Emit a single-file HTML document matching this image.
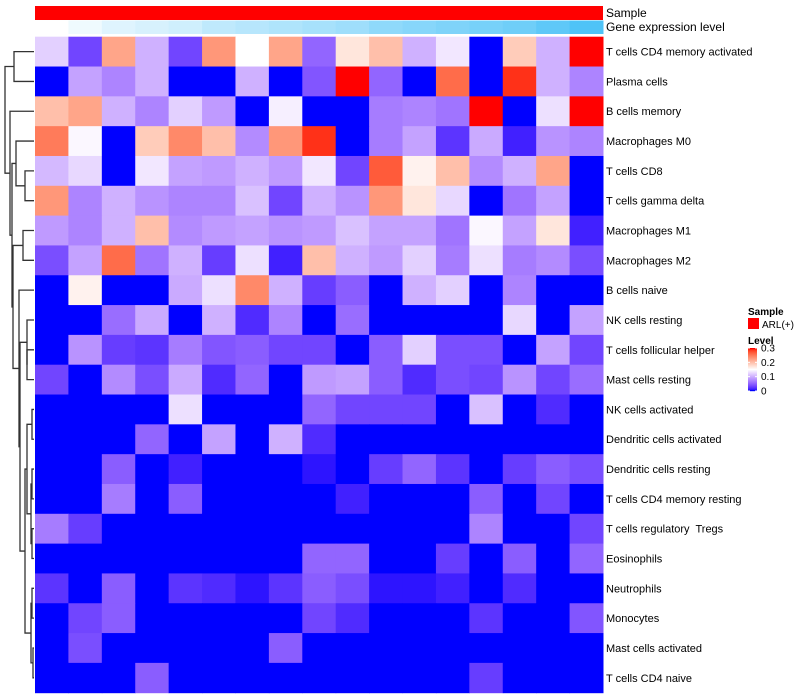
<!DOCTYPE html>
<html><head><meta charset="utf-8">
<style>
html,body{margin:0;padding:0;background:#fff;}
svg{display:block;font-family:"Liberation Sans",sans-serif;}
text{white-space:pre;}
</style></head>
<body>
<svg id="chart" width="800" height="700"></svg>
<script>
const rowLabels=["T cells CD4 memory activated","Plasma cells","B cells memory","Macrophages M0","T cells CD8","T cells gamma delta","Macrophages M1","Macrophages M2","B cells naive","NK cells resting","T cells follicular helper","Mast cells resting","NK cells activated","Dendritic cells activated","Dendritic cells resting","T cells CD4 memory resting","T cells regulatory  Tregs","Eosinophils","Neutrophils","Monocytes","Mast cells activated","T cells CD4 naive"];
const geneLevel=[1,2,3,3.5,4,5,5.5,6,6.5,7,8,8.5,9,9.5,10,11,12];
const r0=[0.12,0.03,0.22,0.1,0.03,0.23,0.15,0.22,0.05,0.17,0.2,0.1,0.135,0,0.19,0.1,0.3];
const r1=[0,0.09,0.07,0.1,0,0,0.1,0,0.04,0.3,0.05,0,0.26,0,0.29,0.1,0.07];
const r2=[0.2,0.22,0.1,0.07,0.12,0.085,0,0.14,0,0,0.065,0.07,0.06,0.3,0,0.13,0.3];
const r3=[0.25,0.145,0,0.19,0.24,0.2,0.075,0.23,0.29,0,0.065,0.09,0.02,0.095,0.01,0.08,0.07];
const r4=[0.105,0.125,0,0.135,0.09,0.085,0.1,0.085,0.135,0.03,0.27,0.16,0.2,0.075,0.1,0.22,0];
const r5=[0.23,0.07,0.1,0.08,0.07,0.07,0.11,0.03,0.1,0.08,0.23,0.17,0.125,0,0.06,0.09,0];
const r6=[0.085,0.07,0.1,0.2,0.075,0.085,0.09,0.08,0.085,0.11,0.09,0.09,0.06,0.145,0.09,0.17,0.01];
const r7=[0.035,0.09,0.26,0.06,0.1,0.025,0.13,0.01,0.2,0.1,0.085,0.12,0.065,0.13,0.065,0.075,0.035];
const r8=[0,0.16,0,0,0.095,0.13,0.24,0.1,0.025,0.045,0,0.1,0.12,0,0.07,0,0];
const r9=[0,0,0.055,0.095,0,0.1,0.015,0.07,0,0.055,0,0,0,0,0.125,0,0.09];
const r10=[0,0.08,0.025,0.02,0.065,0.04,0.045,0.03,0.03,0,0.045,0.12,0.035,0.035,0,0.09,0.03];
const r11=[0.03,0,0.075,0.035,0.095,0.015,0.05,0,0.085,0.09,0.045,0.015,0.035,0.03,0.08,0.03,0.055];
const r12=[0,0,0,0,0.13,0,0,0,0.05,0.03,0.03,0.03,0,0.11,0,0.015,0];
const r13=[0,0,0,0.05,0,0.09,0,0.1,0.015,0,0,0,0,0,0,0,0];
const r14=[0,0,0.045,0,0.01,0,0,0,0.005,0,0.025,0.05,0.02,0,0.025,0.045,0.035];
const r15=[0,0,0.065,0,0.045,0,0,0,0,0.01,0,0,0,0.045,0,0.03,0];
const r16=[0.065,0.025,0,0,0,0,0,0,0,0,0,0,0,0.07,0,0,0.03];
const r17=[0,0,0,0,0,0,0,0,0.05,0.05,0,0,0.025,0,0.045,0,0.05];
const r18=[0.02,0,0.045,0,0.02,0.015,0.005,0.02,0.045,0.035,0.005,0.005,0.01,0,0.015,0,0];
const r19=[0,0.03,0.045,0,0,0,0,0,0.03,0.015,0,0,0,0.02,0,0,0.04];
const r20=[0,0.035,0,0,0,0,0,0.045,0,0,0,0,0,0,0,0,0];
const r21=[0,0,0,0.045,0,0,0,0,0,0,0,0,0,0.025,0,0,0];
const values=[r0,r1,r2,r3,r4,r5,r6,r7,r8,r9,r10,r11,r12,r13,r14,r15,r16,r17,r18,r19,r20,r21];
const legendTicks=[0,0.1,0.2,0.3];

const NS="http://www.w3.org/2000/svg";
const svg=document.getElementById('chart');
function mk(t,a,p){const e=document.createElementNS(NS,t);for(const k in a)e.setAttribute(k,a[k]);(p||svg).appendChild(e);return e;}
const X0=35,X1=603,Y0=36.7,Y1=692.7;
const nC=geneLevel.length,nR=rowLabels.length;
const cw=(X1-X0)/nC,rh=(Y1-Y0)/nR;
const xS=i=>X0+i*cw, yS=i=>Y0+i*rh;

function srgb2lin(c){c/=255;return c<=0.04045?c/12.92:Math.pow((c+0.055)/1.055,2.4);}
function lin2srgb(c){c=c<=0.0031308?12.92*c:1.055*Math.pow(c,1/2.4)-0.055;return Math.round(Math.max(0,Math.min(1,c))*255);}
function toLab(r,g,b){r=srgb2lin(r);g=srgb2lin(g);b=srgb2lin(b);
 let x=(0.4124*r+0.3576*g+0.1805*b)/0.95047,y=0.2126*r+0.7152*g+0.0722*b,z=(0.0193*r+0.1192*g+0.9505*b)/1.08883;
 const f=t=>t>0.008856?Math.cbrt(t):7.787*t+16/116;x=f(x);y=f(y);z=f(z);return[116*y-16,500*(x-y),200*(y-z)];}
function fromLab(L,a,bb){let y=(L+16)/116,x=a/500+y,z=y-bb/200;
 const fi=t=>t*t*t>0.008856?t*t*t:(t-16/116)/7.787;x=fi(x)*0.95047;y=fi(y);z=fi(z)*1.08883;
 const r=3.2406*x-1.5372*y-0.4986*z,g=-0.9689*x+1.8758*y+0.0415*z,b=0.0557*x-0.2040*y+1.0570*z;
 return `rgb(${lin2srgb(r)},${lin2srgb(g)},${lin2srgb(b)})`;}
const LB=toLab(0,0,255),LW=toLab(255,255,255),LR=toLab(255,0,0);
function col(v){v=Math.max(0,Math.min(0.3,v));let a,b,t;
 if(v<0.15){a=LB;b=LW;t=v/0.15;}else{a=LW;b=LR;t=(v-0.15)/0.15;}
 return fromLab(a[0]+(b[0]-a[0])*t,a[1]+(b[1]-a[1])*t,a[2]+(b[2]-a[2])*t);}
const gMin=Math.min(...geneLevel),gMax=Math.max(...geneLevel);
function gcol(v){const t=(v-gMin)/(gMax-gMin);
 return `rgb(${Math.round(255+(79-255)*t)},${Math.round(255+(195-255)*t)},${Math.round(255+(247-255)*t)})`;}

const sb=mk('rect',{x:X0,y:6,width:X1-X0,height:14,fill:'#ff0000'});


for(let j=0;j<nC;j++){
 const r=mk('rect',{x:xS(j),y:20.5,width:cw+0.5,height:13.5,fill:gcol(geneLevel[j])});
 
 
}
const t1=mk('text',{x:606,y:17,'font-size':12});t1.textContent='Sample';


const t2=mk('text',{x:606,y:31,'font-size':12});t2.textContent='Gene expression level';



for(let i=0;i<nR;i++){for(let j=0;j<nC;j++){
 const r=mk('rect',{x:xS(j),y:yS(i),width:cw+0.5,height:rh+0.5,fill:col(values[i][j])});
 
 
}
 const lb=mk('text',{x:606,y:yS(i)+rh/2+4,'font-size':11});lb.textContent=rowLabels[i];
 
 
}

const tree=[5,[14,0,1],[10,2,[12,[16,3,[25,4,5]],[13,[23,6,7],[19,8,[20,[27,9,[27,10,11]],[25,[27,[32,12,13],[31,[32,14,15],[32,16,17]]],[31,[32,18,19],[33,20,21]]]]]]]]];
const dg=mk('g',{stroke:'#333','stroke-width':1.3,fill:'none'});


function draw(n){ if(typeof n==='number'){return{x:34,y:yS(n)+rh/2};}
 const a=draw(n[1]),b=draw(n[2]),x=n[0];
 mk('path',{d:`M${a.x},${a.y}H${x}V${b.y}H${b.x}`},dg);
 return{x:x,y:(a.y+b.y)/2};}
draw(tree);

const lt=mk('text',{x:748,y:315,'font-size':10,'font-weight':'bold'});lt.textContent='Sample';


const ls=mk('rect',{x:748,y:318,width:11,height:11,fill:'#ff0000'});


const ll=mk('text',{x:762,y:328,'font-size':10});ll.textContent='ARL(+)';


const lv=mk('text',{x:748,y:344,'font-size':10,'font-weight':'bold'});lv.textContent='Level';


const LT=348,LBm=391;
for(let k=0;k<43;k++){const v=0.3*(1-k/42);
 const r=mk('rect',{x:748,y:LT+k,width:9,height:1.2,fill:col(v)});
 
 }
legendTicks.forEach(v=>{const y=LBm-(v/0.3)*(LBm-LT);
 const tl=mk('text',{x:761,y:y+3.5,'font-size':10});tl.textContent=String(v);
 
 
 mk('line',{x1:748,x2:750,y1:y,y2:y,stroke:'#fff','stroke-width':1});
 mk('line',{x1:755,x2:757,y1:y,y2:y,stroke:'#fff','stroke-width':1});});
</script>
</body></html>
